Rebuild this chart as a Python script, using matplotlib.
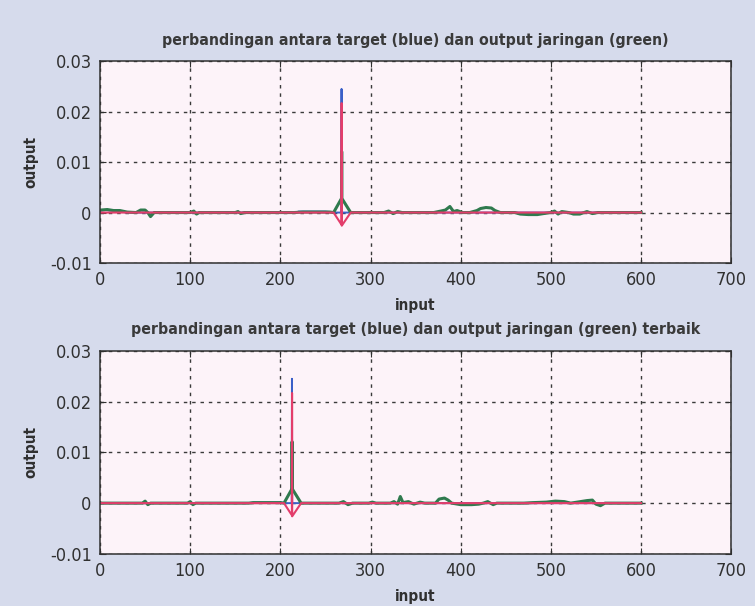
import matplotlib
matplotlib.use("Agg")
import matplotlib.pyplot as plt

plt.rcParams['font.family'] = ['DejaVu Sans']
plt.rcParams['font.stretch'] = 'condensed'

# --- Data (knot points of each trace) ---
XTICKS = [0, 100, 200, 300, 400, 500, 600, 700]
YTICKS = [-0.01, 0, 0.01, 0.02, 0.03]
YTICKLABELS = ["-0.01", "0", "0.01", "0.02", "0.03"]

TITLE_TOP = "perbandingan antara target (blue) dan output jaringan (green)"
TITLE_BOT = "perbandingan antara target (blue) dan output jaringan (green) terbaik"

# top panel
red_top = [(1, 0), (259, 0), (267.8, -0.0024), (267.95, 0.0217), (268.1, -0.0026),
           (278, 0), (600, 0)]
blue_top = [(1, 0.0004), (6, 0.0005), (18, 0.0003), (30, 0), (218, 0), (220, 0.0002),
            (250, 0.0002), (262, 0), (267.6, 0), (267.85, 0.0245), (268.1, 0), (600, 0)]
green_top = [(1, 0.0005), (8, 0.0006), (15, 0.0004), (22, 0.0004), (30, 0.0001),
             (40, 0), (45, 0.0005), (50, 0.0005), (53, 0), (56, -0.0008), (60, 0),
             (100, 0), (104, 0.0003), (107, -0.0003), (110, 0), (150, 0),
             (153, 0.0002), (156, -0.0002), (160, 0), (215, 0), (225, 0.0001),
             (255, 0.0001), (259, 0), (267.8, 0.0028), (268.0, 0.0121), (268.2, 0.0028),
             (278, 0), (315, 0), (320, 0.0003), (325, -0.0002), (330, 0.0002),
             (335, 0), (370, 0), (378, 0.0003), (383, 0.0005), (388, 0.0012),
             (392, 0.0002), (396, 0.0004), (402, 0), (410, 0), (418, 0.0004),
             (422, 0.0008), (428, 0.0010), (434, 0.0009), (438, 0.0004), (444, 0),
             (460, 0), (466, -0.0003), (475, -0.0004), (485, -0.0004),
             (492, -0.0002), (500, 0), (504, 0.0003), (508, -0.0003), (512, 0.0002),
             (520, 0), (525, -0.0003), (532, -0.0003), (540, 0.0002), (546, -0.0002),
             (552, 0), (600, 0)]

# bottom panel
red_bot = [(1, 0), (204, 0), (212.8, -0.0024), (212.95, 0.0217), (213.1, -0.0026),
           (223, 0), (600, 0)]
blue_bot = [(1, 0), (165, 0), (170, 0.0001), (200, 0.0001), (207, 0), (212.6, 0),
            (212.85, 0.0245), (213.1, 0), (600, 0)]
green_bot = [(1, 0), (47, 0), (50, 0.0004), (53, -0.0003), (56, 0), (97, 0),
             (100, 0.0003), (103, -0.0003), (106, 0), (165, 0), (170, 0.0001),
             (200, 0.0001), (204, 0), (212.8, 0.0028), (213.0, 0.0121), (213.2, 0.0028),
             (223, 0), (265, 0), (270, 0.0003), (275, -0.0003), (280, 0), (298, 0),
             (302, 0.0002), (306, 0), (322, 0), (326, 0.0003), (330, -0.0002),
             (333, 0.0013), (336, 0.0001), (342, 0.0003), (348, -0.0002), (355, 0.0002),
             (360, 0), (372, 0), (376, 0.0008), (382, 0.0010), (386, 0.0006),
             (390, 0), (400, -0.0003), (412, -0.0003), (420, -0.0002), (425, 0),
             (430, 0.0003), (436, -0.0003), (440, 0), (470, 0), (480, 0.0001),
             (495, 0.0002), (505, 0.0004), (515, 0.0003), (522, 0), (540, 0.0005),
             (546, 0.0006), (550, -0.0002), (555, -0.0005), (560, 0), (600, 0)]

# --- Plot ---
BG = "#d6dbec"
FACE = "#fdf3f9"
RED = "#e33d6b"
BLUE = "#3a5fc8"
GREEN = "#2f7a4e"
INK = "#303030"

fig = plt.figure(figsize=(7.55, 6.06), dpi=100, facecolor=BG)
ax1 = fig.add_axes([0.1325, 0.566, 0.836, 0.333])
ax2 = fig.add_axes([0.1325, 0.086, 0.836, 0.335])


def draw(ax, red, blue, green, title):
    ax.set_facecolor(FACE)
    for pts, col, lw in ((blue, BLUE, 1.4), (green, GREEN, 2.2), (red, RED, 1.5)):
        xs = [p[0] for p in pts]
        ys = [p[1] for p in pts]
        ax.plot(xs, ys, color=col, lw=lw, solid_joinstyle="round")
    ax.set_xlim(0, 700)
    ax.set_ylim(-0.01, 0.03)
    ax.set_xticks(XTICKS)
    ax.set_yticks(YTICKS)
    ax.set_yticklabels(YTICKLABELS)
    ax.grid(True, color="#3a3a3a", linestyle=(0, (2.5, 3.5)), lw=1.0)
    ax.tick_params(direction="in", length=4, top=True, right=True,
                   labelsize=13, colors=INK, pad=6)
    for s in ax.spines.values():
        s.set_color(INK)
        s.set_linewidth(1.1)
    ax.set_title(title, fontsize=11.3, fontweight="bold", color="#3a3a3a", pad=12)
    ax.set_xlabel("input", fontsize=11, fontweight="bold", color=INK)
    ax.xaxis.set_label_coords(0.5, -0.175)
    ax.xaxis.label.set_va("top")
    ax.set_ylabel("output", fontsize=11, fontweight="bold", color=INK)
    ax.yaxis.set_label_coords(-0.098, 0.5)


draw(ax1, red_top, blue_top, green_top, TITLE_TOP)
draw(ax2, red_bot, blue_bot, green_bot, TITLE_BOT)

fig.savefig("out.png", dpi=100, facecolor=BG)
